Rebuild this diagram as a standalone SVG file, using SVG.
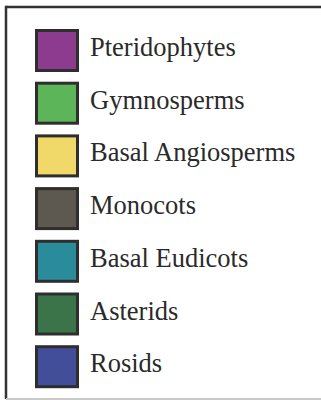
<svg xmlns="http://www.w3.org/2000/svg" width="321" height="400" viewBox="0 0 321 400">
<style>
.sw{stroke:#2e2e2e;stroke-width:3}
.lbl{font-family:"Liberation Serif","Times New Roman",serif;font-size:26.5px;fill:#2a2a2a}
</style>
<rect x="0" y="0" width="321" height="400" fill="#ffffff"/>
<g id="frame">
<line x1="6" y1="7" x2="321" y2="7" stroke="#333" stroke-width="2.5"/>
<line x1="6" y1="5.8" x2="6" y2="399" stroke="#333" stroke-width="2.5"/>
<line x1="6" y1="399" x2="321" y2="399" stroke="#c8c8c8" stroke-width="2"/>
</g>
<g id="pteridophytes">
<rect class="sw" x="36.5" y="30.5" width="41" height="40" fill="#8c3b8e"/>
<text class="lbl" x="90" y="56">Pteridophytes</text>
</g>
<g id="gymnosperms">
<rect class="sw" x="36.5" y="83.2" width="41" height="40" fill="#5db55a"/>
<text class="lbl" x="90" y="108.7">Gymnosperms</text>
</g>
<g id="basal-angiosperms">
<rect class="sw" x="36.5" y="135.9" width="41" height="40" fill="#f0d869"/>
<text class="lbl" x="90" y="161.4">Basal Angiosperms</text>
</g>
<g id="monocots">
<rect class="sw" x="36.5" y="188.6" width="41" height="40" fill="#5d5850"/>
<text class="lbl" x="90" y="214.1">Monocots</text>
</g>
<g id="basal-eudicots">
<rect class="sw" x="36.5" y="241.3" width="41" height="40" fill="#2a8b9b"/>
<text class="lbl" x="90" y="266.8">Basal Eudicots</text>
</g>
<g id="asterids">
<rect class="sw" x="36.5" y="294" width="41" height="40" fill="#3b7448"/>
<text class="lbl" x="90" y="319.5">Asterids</text>
</g>
<g id="rosids">
<rect class="sw" x="36.5" y="346.7" width="41" height="40" fill="#434e9b"/>
<text class="lbl" x="90" y="372.2">Rosids</text>
</g>
</svg>
